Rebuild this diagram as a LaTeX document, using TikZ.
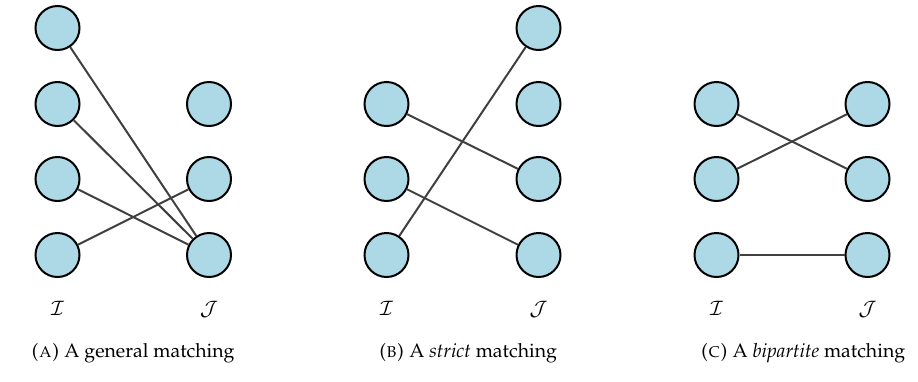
\documentclass[tikz,border=0pt]{standalone}
\usepackage[T1]{fontenc}
\usepackage{mathpazo}
\definecolor{nodeblue}{RGB}{173,216,230}
\definecolor{edgegray}{RGB}{64,64,64}
\tikzset{
  vert/.style={circle,draw=black,fill=nodeblue,line width=2pt,minimum size=44pt,inner sep=0pt},
  edge/.style={draw=edgegray,line width=2pt},
  setlabel/.style={font=\fontsize{20}{24}\selectfont,anchor=base,inner sep=0pt},
  captext/.style={font=\fontsize{19.5}{24}\selectfont,anchor=base,inner sep=0pt}
}
\begin{document}
\begin{tikzpicture}[x=1pt,y=-1pt]
\useasboundingbox (0,0) rectangle (918,381);
% Panel A
\foreach \i/\y in {1/28,2/104,3/179,4/255} {\node[vert] (a\i) at (57.5,\y) {};}
\foreach \i/\y in {2/104,3/179,4/255} {\node[vert] (b\i) at (209,\y) {};}
\draw[edge] (a1) -- (b4);
\draw[edge] (a2) -- (b4);
\draw[edge] (a3) -- (b4);
\draw[edge] (a4) -- (b3);
\node[setlabel] (la) at (57.5,315) {$\mathcal{I}$};
\node[setlabel] (ra) at (209,315) {$\mathcal{J}$};
\node[captext] (capa) at (133,357) {\textsc{(a)} A general matching};
% Panel B
\foreach \i/\y in {2/104,3/179,4/255} {\node[vert] (c\i) at (386.5,\y) {};}
\foreach \i/\y in {1/28,2/104,3/179,4/255} {\node[vert] (d\i) at (538.5,\y) {};}
\draw[edge] (c2) -- (d3);
\draw[edge] (c3) -- (d4);
\draw[edge] (c4) -- (d1);
\node[setlabel] (lb) at (386.5,315) {$\mathcal{I}$};
\node[setlabel] (rb) at (538.5,315) {$\mathcal{J}$};
\node[captext] (capb) at (468,357) {\textsc{(b)} A \textit{strict} matching};
% Panel C
\foreach \i/\y in {2/104,3/179,4/255} {\node[vert] (e\i) at (716.5,\y) {};}
\foreach \i/\y in {2/104,3/179,4/255} {\node[vert] (f\i) at (867.5,\y) {};}
\draw[edge] (e2) -- (f3);
\draw[edge] (e3) -- (f2);
\draw[edge] (e4) -- (f4);
\node[setlabel] (lc) at (716.5,315) {$\mathcal{I}$};
\node[setlabel] (rc) at (867.5,315) {$\mathcal{J}$};
\node[captext] (capc) at (803,357) {\textsc{(c)} A \textit{bipartite} matching};
\end{tikzpicture}
\end{document}
